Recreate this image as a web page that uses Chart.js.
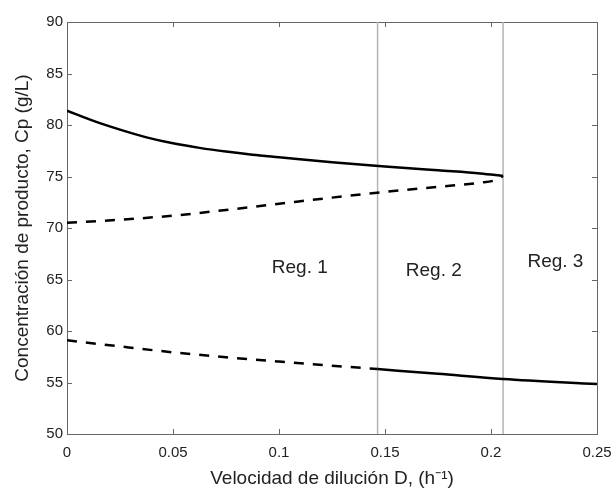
<!DOCTYPE html>
<html>
<head>
<meta charset="utf-8">
<script src="https://cdn.jsdelivr.net/npm/chart.js@4.4.1/dist/chart.umd.min.js"></script>
<style>
  html, body { margin: 0; padding: 0; background: #fff; }
</style>
</head>
<body>
<canvas id="grafico" width="616" height="489"></canvas>
<script>
// rama superior (estable, continua)
const dSuperior = [0, 0.0125, 0.025, 0.0375, 0.05, 0.0625, 0.075, 0.0875, 0.1, 0.125, 0.15, 0.175, 0.195, 0.2057];
const cpSuperior = [81.4, 80.4, 79.55, 78.8, 78.22, 77.78, 77.42, 77.12, 76.87, 76.38, 75.98, 75.6, 75.3, 75.05];

// rama media (inestable, discontinua)
const dMedia = [0, 0.025, 0.05, 0.075, 0.1, 0.125, 0.15, 0.175, 0.195, 0.202, 0.2057];
const cpMedia = [70.5, 70.8, 71.2, 71.75, 72.35, 72.95, 73.5, 74.0, 74.4, 74.65, 75.05];

// rama inferior: discontinua hasta el limite de Reg. 1, despues continua
const dInferiorDisc = [0, 0.025, 0.05, 0.075, 0.1, 0.125, 0.1465];
const cpInferiorDisc = [59.1, 58.5, 57.93, 57.45, 57.03, 56.63, 56.3];
const dInferiorCont = [0.1465, 0.175, 0.2057, 0.25];
const cpInferiorCont = [56.3, 55.85, 55.35, 54.85];

// limites de las regiones
const limitesRegion = [0.1465, 0.2057];
const etiquetasRegion = ["Reg. 1", "Reg. 2", "Reg. 3"];
const etiquetaD = [0.1098, 0.173, 0.2304];
const etiquetaCp = [66.15, 65.85, 66.75];

const fuente = "'Liberation Sans', Arial, sans-serif";
const colorTexto = "#222";
const colorEje = "#666";

function puntos(xs, ys) {
    return xs.map((x, i) => ({ x: x, y: ys[i] }));
}

let datasets = [];
for (let lim of limitesRegion) {
    datasets.push({
        data: puntos([lim, lim], [50, 90]),
        borderColor: "#b4b4b4",
        borderWidth: 1.5,
        order: 2
    });
}
let estiloCurva = { borderColor: "#000", borderWidth: 2.5, cubicInterpolationMode: "monotone", order: 1 };
datasets.push(Object.assign({ data: puntos(dSuperior, cpSuperior) }, estiloCurva));
datasets.push(Object.assign({ data: puntos(dMedia, cpMedia), borderDash: [10, 9] }, estiloCurva));
datasets.push(Object.assign({ data: puntos(dInferiorDisc, cpInferiorDisc), borderDash: [10, 9] }, estiloCurva));
datasets.push(Object.assign({ data: puntos(dInferiorCont, cpInferiorCont) }, estiloCurva));

// caja y marcas hacia dentro, estilo MATLAB
const cajaPlugin = {
    id: "caja",
    beforeDatasetsDraw(chart) {
        const ctx = chart.ctx;
        const a = chart.chartArea;
        const sx = chart.scales.x, sy = chart.scales.y;
        ctx.save();
        ctx.strokeStyle = colorEje;
        ctx.lineWidth = 1;
        ctx.beginPath();
        for (let t of sx.ticks) {
            let px = Math.round(sx.getPixelForValue(t.value)) + 0.5;
            ctx.moveTo(px, a.bottom); ctx.lineTo(px, a.bottom - 5);
            ctx.moveTo(px, a.top); ctx.lineTo(px, a.top + 5);
        }
        for (let t of sy.ticks) {
            let py = Math.round(sy.getPixelForValue(t.value)) + 0.5;
            ctx.moveTo(a.left, py); ctx.lineTo(a.left + 5, py);
            ctx.moveTo(a.right, py); ctx.lineTo(a.right - 5, py);
        }
        ctx.stroke();
        ctx.strokeRect(Math.round(a.left) + 0.5, Math.round(a.top) + 0.5, Math.round(a.right - a.left), Math.round(a.bottom - a.top));
        ctx.restore();
    },
    afterDatasetsDraw(chart) {
        const ctx = chart.ctx;
        const sx = chart.scales.x, sy = chart.scales.y;
        ctx.save();
        ctx.fillStyle = colorTexto;
        ctx.font = "19px " + fuente;
        ctx.textAlign = "center";
        ctx.textBaseline = "middle";
        etiquetasRegion.forEach((txt, i) => {
            ctx.fillText(txt, sx.getPixelForValue(etiquetaD[i]), sy.getPixelForValue(etiquetaCp[i]));
        });
        ctx.restore();
    }
};

new Chart(document.getElementById("grafico").getContext("2d"), {
    type: "scatter",
    data: { datasets: datasets },
    options: {
        responsive: false,
        animation: false,
        showLine: true,
        elements: { point: { radius: 0, hoverRadius: 0 }, line: { tension: 0 } },
        layout: { padding: { top: 22, right: 19, left: 0, bottom: 0 } },
        plugins: { legend: { display: false }, tooltip: { enabled: false } },
        scales: {
            x: {
                type: "linear",
                min: 0, max: 0.25,
                grid: { display: false, drawTicks: false },
                border: { display: false },
                ticks: {
                    stepSize: 0.05, color: colorTexto, font: { family: fuente, size: 15 }, padding: 10, maxRotation: 0,
                    callback: (v) => String(Number(v.toFixed(2)))
                },
                title: { display: true, text: "Velocidad de dilución D, (h⁻¹)", color: colorTexto, font: { family: fuente, size: 19 }, padding: { top: 0, bottom: -1 } },
                afterFit(scale) {
                    scale.height = 55;
                    scale.paddingLeft = 0;
                    scale.paddingRight = 0;
                }
            },
            y: {
                min: 50, max: 90,
                grid: { display: false, drawTicks: false },
                border: { display: false },
                ticks: { stepSize: 5, color: colorTexto, font: { family: fuente, size: 15 }, padding: 4 },
                title: { display: true, text: "Concentración de producto, Cp (g/L)", color: colorTexto, font: { family: fuente, size: 19 }, padding: { top: 11, bottom: 0 } },
                afterFit(scale) {
                    scale.width = 67;
                    scale.paddingTop = 0;
                    scale.paddingBottom = 0;
                }
            }
        }
    },
    plugins: [cajaPlugin]
});
</script>
</body>
</html>
